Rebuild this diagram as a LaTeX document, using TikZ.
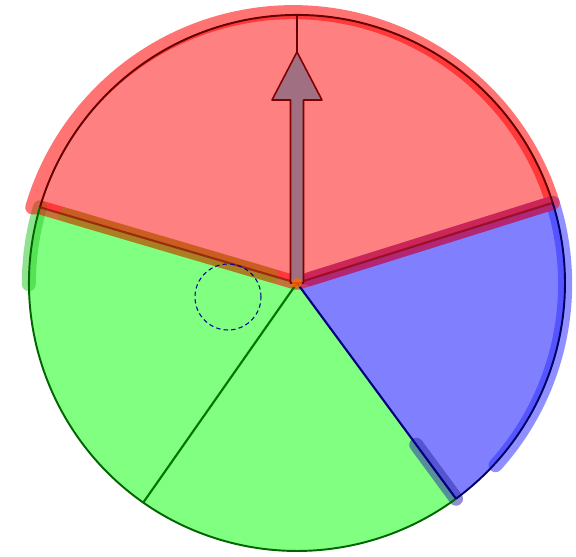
\documentclass[tikz,border=0pt]{standalone}
\usetikzlibrary{calc}
\definecolor{arrfill}{RGB}{160,112,130}
\newcommand{\whlrad}{268}

\begin{document}
\begin{tikzpicture}[x=0.02cm,y=0.02cm,
  smear/.style={line width=8pt,line join=round,line cap=round,opacity=0.55},
  rim/.style={line width=1.1pt},
  spk/.style={line width=1.2pt},
  hole/.style={blue!60!black,line width=0.6pt,dash pattern=on 2.5pt off 1.8pt}
]
\useasboundingbox (-297,-274) rectangle (279,283);
\coordinate (c)   at (0,0);
\coordinate (pr)  at (17.4:\whlrad);
\coordinate (pl)  at (163.6:\whlrad);
\coordinate (pb)  at (-53.6:\whlrad);
\coordinate (pg)  at (-125:\whlrad);
\coordinate (top) at (90:\whlrad);

% sectors
\fill[red!50]   (c) -- (pr) arc[start angle=17.4,end angle=163.6,radius=\whlrad] -- cycle;
\fill[green!50] (c) -- (pl) arc[start angle=163.6,end angle=306.4,radius=\whlrad] -- cycle;
\fill[blue!50]  (c) -- (pb) arc[start angle=-53.6,end angle=17.4,radius=\whlrad] -- cycle;

% hand smears
\draw[smear,green!75!black!80] (pl) arc[start angle=163.6,end angle=180,radius=\whlrad+4];
\draw[smear,blue!80] ($(c)!0.05!(pr)$) -- (pr) arc[start angle=17.4,end angle=-42,radius=\whlrad+3];
\draw[smear,blue!60!black!80] ($(c)!0.75!(pb)$) -- (pb);
\draw[smear,red] (pl) -- (c) -- (pr) arc[start angle=17.4,end angle=163.6,radius=\whlrad+4] -- cycle;
\draw[smear,olive!90!green,opacity=0.45] ($(c)!0.1!(pl)$) -- ($(c)!0.9!(pl)$);

% rim and spokes
\draw[rim,red!40!black]   (pr) arc[start angle=17.4,end angle=163.6,radius=\whlrad];
\draw[rim,green!40!black] (pl) arc[start angle=163.6,end angle=306.4,radius=\whlrad];
\draw[rim,blue!40!black]  (pb) arc[start angle=-53.6,end angle=17.4,radius=\whlrad];
\draw[spk,green!45!black] (c) -- (pg);
\draw[spk,blue!50!black]  (c) -- (pb);
\draw[spk,red!50!black,opacity=0.6] (c) -- (pl);
\draw[spk,red!50!black,opacity=0.6] (c) -- (pr);

% pointer
\draw[line width=1.2pt,red!40!black] (c) -- (top);
\filldraw[fill=arrfill,draw=red!50!black,line width=0.9pt,line join=round]
  (-6.5,0) -- (-6.5,183) -- (-25,183) -- (0,231) -- (25,183) -- (6.5,183) -- (6.5,0) -- cycle;
\fill[orange!80!red,opacity=0.8] (c) circle[radius=5];

% dashed hole
\draw[hole] (-69,-14) circle[radius=33];
\end{tikzpicture}
\end{document}
